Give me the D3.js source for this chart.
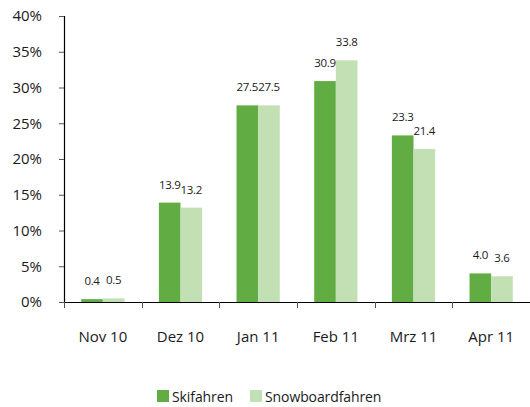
<!DOCTYPE html>
<html>
<head>
<meta charset="utf-8">
<script src="https://cdn.jsdelivr.net/npm/d3@7"></script>
<style>
  body { margin: 0; background: #fff; }
  svg text { font-family: "Open Sans", "Noto Sans", sans-serif; fill: #1a1a1a; }
</style>
</head>
<body>
<svg id="chart" width="530" height="407"></svg>
<script>
const months = ["Nov 10", "Dez 10", "Jan 11", "Feb 11", "Mrz 11", "Apr 11"];
const seriesNames = ["Skifahren", "Snowboardfahren"];
const skifahren = [0.4, 13.9, 27.5, 30.9, 23.3, 4.0];
const snowboardfahren = [0.5, 13.2, 27.5, 33.8, 21.4, 3.6];
const yTicks = [0, 5, 10, 15, 20, 25, 30, 35, 40];

const colors = {Skifahren: "#62ad43", Snowboardfahren: "#c2e0b3"};
const margin = {left: 64, right: 0, top: 16, bottom: 105};
const width = 530, height = 407;

const svg = d3.select("#chart");

const rows = months.map((m, i) => ({
  month: m,
  Skifahren: skifahren[i],
  Snowboardfahren: snowboardfahren[i]
}));

const x = d3.scaleBand()
  .domain(months)
  .range([margin.left, width - margin.right])
  .paddingInner(0)
  .paddingOuter(0);

const xInner = d3.scaleBand()
  .domain(seriesNames)
  .range([0, x.bandwidth()])
  .paddingOuter(0.795)
  .paddingInner(0);

const y = d3.scaleLinear()
  .domain([0, 40])
  .range([height - margin.bottom, margin.top]);

// bars
const groups = svg.append("g")
  .selectAll("g")
  .data(rows)
  .join("g")
  .attr("transform", d => `translate(${x(d.month)},0)`);

groups.selectAll("rect")
  .data(d => seriesNames.map(k => ({key: k, value: d[k]})))
  .join("rect")
  .attr("x", d => xInner(d.key))
  .attr("y", d => y(d.value))
  .attr("width", xInner.bandwidth())
  .attr("height", d => y(0) - y(d.value))
  .attr("fill", d => colors[d.key]);

// value labels
groups.selectAll("text")
  .data(d => seriesNames.map(k => ({key: k, value: d[k]})))
  .join("text")
  .attr("x", d => xInner(d.key) + xInner.bandwidth() / 2)
  .attr("y", d => y(d.value) - 14)
  .attr("text-anchor", "middle")
  .style("font-size", "11.5px")
  .style("letter-spacing", "-0.3px")
  .text(d => d.value.toFixed(1));

// y axis
const yAxis = svg.append("g")
  .attr("transform", `translate(${margin.left},0)`)
  .call(d3.axisLeft(y).tickValues(yTicks).tickSize(5).tickPadding(17).tickFormat(d => d + "%"));
yAxis.select(".domain").attr("stroke", "#000").attr("stroke-width", 1.2);
yAxis.selectAll(".tick line").attr("stroke", "#555");
yAxis.selectAll(".tick text").style("font-size", "15px");

// x axis
const xAxis = svg.append("g")
  .attr("transform", `translate(0,${y(0)})`)
  .call(d3.axisBottom(x).tickSize(0).tickPadding(0).tickSizeOuter(0));
xAxis.select(".domain").attr("stroke", "#000").attr("stroke-width", 1.2);
xAxis.selectAll(".tick text").attr("dy", null).attr("y", 40).style("font-size", "15px");

// boundary ticks between categories
svg.append("g")
  .selectAll("line")
  .data(months)
  .join("line")
  .attr("x1", d => Math.round(x(d)) + 0.5)
  .attr("x2", d => Math.round(x(d)) + 0.5)
  .attr("y1", y(0))
  .attr("y2", y(0) + 6)
  .attr("stroke", "#555");

// legend
const legend = svg.append("g").attr("transform", "translate(157,390)");
const legendItems = legend.selectAll("g")
  .data(seriesNames)
  .join("g")
  .attr("transform", (d, i) => `translate(${i * 93},0)`);
legendItems.append("rect")
  .attr("width", 12).attr("height", 12)
  .attr("fill", d => colors[d]);
legendItems.append("text")
  .attr("x", 15).attr("y", 11.5)
  .style("font-size", "14px")
  .style("letter-spacing", "-0.1px")
  .text(d => d);
</script>
</body>
</html>
